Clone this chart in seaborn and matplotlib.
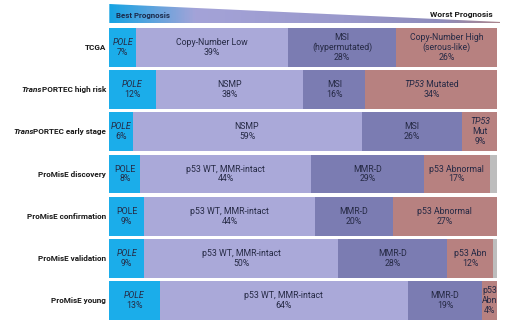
import numpy as np
import pandas as pd
import matplotlib
matplotlib.use("Agg")
import matplotlib.pyplot as plt
from matplotlib.colors import LinearSegmentedColormap
from matplotlib.patches import Polygon
from matplotlib.transforms import IdentityTransform
import seaborn as sns

# ---------------- data ----------------
cohorts = ["TCGA", "TransPORTEC high risk", "TransPORTEC early stage",
           "ProMisE discovery", "ProMisE confirmation", "ProMisE validation",
           "ProMisE young"]
# label pieces: (text, italic)
cohort_labels = [[("TCGA", False)],
                 [("Trans", True), ("PORTEC high risk", False)],
                 [("Trans", True), ("PORTEC early stage", False)],
                 [("ProMisE discovery", False)], [("ProMisE confirmation", False)],
                 [("ProMisE validation", False)], [("ProMisE young", False)]]
pole = [7, 12, 6, 8, 9, 9, 13]
nsmp = [39, 38, 59, 44, 44, 50, 64]
msi = [28, 16, 26, 29, 20, 28, 19]
p53 = [26, 34, 9, 17, 27, 12, 4]
unclassified = [0, 0, 0, 2, 0, 1, 0]

# segment names: list of lines, each line a list of (text, italic)
pole_names = [[[("POLE", True)]]] * 3 + [[[("POLE", False)]]] * 2 + [[[("POLE", True)]]] * 2
nsmp_names = [[[("Copy-Number Low", False)]]] + [[[("NSMP", False)]]] * 2 + \
             [[[("p53 WT, MMR-intact", False)]]] * 4
msi_names = [[[("MSI", False)], [("(hypermutated)", False)]]] + [[[("MSI", False)]]] * 2 + \
            [[[("MMR-D", False)]]] * 4
p53_names = [[[("Copy-Number High", False)], [("(serous-like)", False)]],
             [[("TP53", True), (" Mutated", False)]],
             [[("TP53", True)], [("Mut", False)]],
             [[("p53 Abnormal", False)]], [[("p53 Abnormal", False)]],
             [[("p53 Abn", False)]], [[("p53", False)], [("Abn", False)]]]

colors = ["#1badea", "#aaa9d9", "#7b7cb2", "#b78180", "#bdbdbd"]

# ---------------- style ----------------
sns.set_theme(style="white")
FAM = ["Roboto", "DejaVu Sans"]
plt.rcParams["font.family"] = FAM

W, H = 510, 322
fig = plt.figure(figsize=(W / 100, H / 100), dpi=100)
fig.patch.set_facecolor("white")
renderer = fig.canvas.get_renderer()

x0, x1 = 109.3, 497.3
ytop, ybot = 26.3, 321.7
ax = fig.add_axes([x0 / W, 1 - ybot / H, (x1 - x0) / W, (ybot - ytop) / H])

df = pd.DataFrame({"cohort": cohorts, "POLE": pole, "NSMP": nsmp,
                   "MSI": msi, "P53": p53, "NC": unclassified})
parts = ["POLE", "NSMP", "MSI", "P53", "NC"]
cum = df[parts].cumsum(axis=1)

for i in range(len(parts) - 1, -1, -1):
    sns.barplot(x=cum[parts[i]], y=df["cohort"], orient="h", color=colors[i],
                saturation=1, width=0.92, linewidth=0, ax=ax)

ax.set_xlim(0, 100)
ax.set_ylim(6.5, -0.5)
ax.set_axis_off()


def draw_line(xd, yd, pieces, align, **kw):
    """Draw a line of mixed-style text at display coords (xd, yd)."""
    arts = []
    for s, it in pieces:
        t = fig.text(0, 0, s, transform=IdentityTransform(), ha="left",
                     va="center", fontstyle="italic" if it else "normal", **kw)
        arts.append(t)
    widths = [a.get_window_extent(renderer).width for a in arts]
    total = sum(widths)
    if align == "center":
        start = xd - total / 2
    elif align == "right":
        start = xd - total
    else:
        start = xd
    for a, w in zip(arts, widths):
        a.set_position((start, yd))
        start += w


txt_color = "#262a45"
fs = 6.3
line_h = 9.8
for r in range(len(cohorts)):
    left = 0
    for vals, names in [(pole, pole_names), (nsmp, nsmp_names),
                        (msi, msi_names), (p53, p53_names)]:
        v = vals[r]
        lines = names[r] + [[(f"{v}%", False)]]
        cx, cy = ax.transData.transform((left + v / 2, r))
        n = len(lines)
        for k, ln in enumerate(lines):
            yk = cy + ((n - 1) / 2 - k) * line_h
            draw_line(cx, yk, ln, "center", fontsize=fs, color=txt_color)
        left += v
    lx, ly = ax.transData.transform((0, r))
    draw_line(lx - 3, ly, cohort_labels[r], "right", fontsize=5.9,
              fontweight="bold", color="#1a1a1a")

# ---------------- header wedge ----------------
hx0, hx1, hy0, hy1 = 109.3, 500, 4, 23.5
hax = fig.add_axes([hx0 / W, 1 - hy1 / H, (hx1 - hx0) / W, (hy1 - hy0) / H])
hax.set_xlim(0, 1)
hax.set_ylim(0, 1)
hax.set_axis_off()
cmap = LinearSegmentedColormap.from_list(
    "prog", [(0, "#16a3e3"), (0.22, "#a4a3d8"), (0.6, "#9a99cc"),
             (0.85, "#8e8cbc"), (1.0, "#a9848c")])
grad = np.linspace(0, 1, 400).reshape(1, -1)
im = hax.imshow(grad, cmap=cmap, extent=[0, 1, 0, 1], aspect="auto")
poly = Polygon([(0, 0), (1, 0), (1, 0.08), (0, 1)], closed=True,
               transform=hax.transData, facecolor="none", edgecolor="none")
hax.add_patch(poly)
im.set_clip_path(poly)

fig.text(116 / W, 1 - 15.3 / H, "Best Prognosis", ha="left", va="center",
         fontsize=5.7, fontweight="bold", color="#1b2a4a")
fig.text(493 / W, 1 - 15 / H, "Worst Prognosis", ha="right", va="center",
         fontsize=6.0, fontweight="bold", color="#1a1a1a")

fig.savefig("out.png", dpi=100, facecolor="white")
